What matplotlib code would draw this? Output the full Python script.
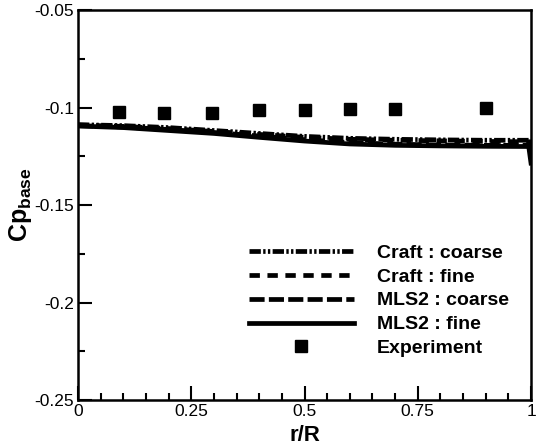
import numpy as np
import matplotlib.pyplot as plt
from matplotlib.ticker import MultipleLocator

plt.rcParams['font.family'] = ['Liberation Sans', 'DejaVu Sans']
plt.rcParams['mathtext.fontset'] = 'custom'
plt.rcParams['mathtext.rm'] = 'Liberation Sans'
plt.rcParams['mathtext.bf'] = 'Liberation Sans:bold'

# =====================================================
# DATA
# =====================================================

r_cfd = [0.0, 0.1, 0.2, 0.3, 0.4, 0.5, 0.6, 0.7, 0.8, 0.9, 1.0]

craft_coarse = [-0.1088, -0.1093, -0.1103, -0.1118, -0.1133, -0.1148,
                -0.1158, -0.1163, -0.1166, -0.1168, -0.1168]
craft_fine = [-0.1090, -0.1097, -0.1108, -0.1123, -0.1138, -0.1153,
              -0.1163, -0.1168, -0.1171, -0.1174, -0.1176]
mls2_coarse = [-0.1093, -0.1100, -0.1113, -0.1128, -0.1146, -0.1165,
               -0.1180, -0.1188, -0.1192, -0.1194, -0.1194]

r_fine = [0.0, 0.1, 0.2, 0.3, 0.4, 0.5, 0.6, 0.7, 0.8, 0.9, 0.995, 1.0]
mls2_fine = [-0.1095, -0.1103, -0.1118, -0.1133, -0.1153, -0.1172,
             -0.1187, -0.1194, -0.1197, -0.1199, -0.1200, -0.1285]

r_exp = [0.09, 0.19, 0.295, 0.40, 0.50, 0.60, 0.70, 0.90]
cp_exp = [-0.1025, -0.1030, -0.1030, -0.1015, -0.1015, -0.1010, -0.1010, -0.1005]

# =====================================================
# PLOT
# =====================================================

fig = plt.figure(figsize=(5.38, 4.48), dpi=100)
ax = fig.add_axes([78 / 538, 48 / 448, 453 / 538, 390 / 448])

lw = 3.4
ax.plot(r_cfd, craft_coarse, color='black', lw=lw,
        dashes=(2.4, 0.5, 0.5, 0.5, 0.5, 0.5), label='Craft : coarse')
ax.plot(r_cfd, craft_fine, color='black', lw=lw,
        dashes=(2.2, 1.6), label='Craft : fine')
ax.plot(r_cfd, mls2_coarse, color='black', lw=lw,
        dashes=(3.2, 0.9), label='MLS2 : coarse')
ax.plot(r_fine, mls2_fine, color='black', lw=lw,
        label='MLS2 : fine')
ax.plot(r_exp, cp_exp, 's', color='black', ms=8, ls='none',
        label='Experiment')

ax.set_xlim(0, 1)
ax.set_ylim(-0.25, -0.05)

ax.xaxis.set_minor_locator(MultipleLocator(0.05))
ax.yaxis.set_minor_locator(MultipleLocator(0.025))

ax.set_xticks([0, 0.25, 0.5, 0.75, 1])
ax.set_xticklabels(['0', '0.25', '0.5', '0.75', '1'])
ax.set_yticks([-0.25, -0.2, -0.15, -0.1, -0.05])
ax.set_yticklabels(['-0.25', '-0.2', '-0.15', '-0.1', '-0.05'])

ax.tick_params(which='both', direction='in', top=False, right=False,
               labelsize=12.5, width=1.5, pad=3)
ax.tick_params(which='major', length=10)
ax.tick_params(which='minor', length=5)

for s in ax.spines.values():
    s.set_linewidth(1.8)

ax.set_xlabel('r/R', fontsize=16, fontweight='bold', labelpad=4)
ax.set_ylabel(r'$\mathbf{Cp}_{\mathbf{base}}$', fontsize=18, labelpad=0)

leg = ax.legend(loc='lower right', bbox_to_anchor=(0.99, 0.065),
                frameon=False, handlelength=5.4, handletextpad=1.2,
                labelspacing=0.32, prop={'weight': 'bold', 'size': 14})

fig.savefig('out.png', dpi=100)
